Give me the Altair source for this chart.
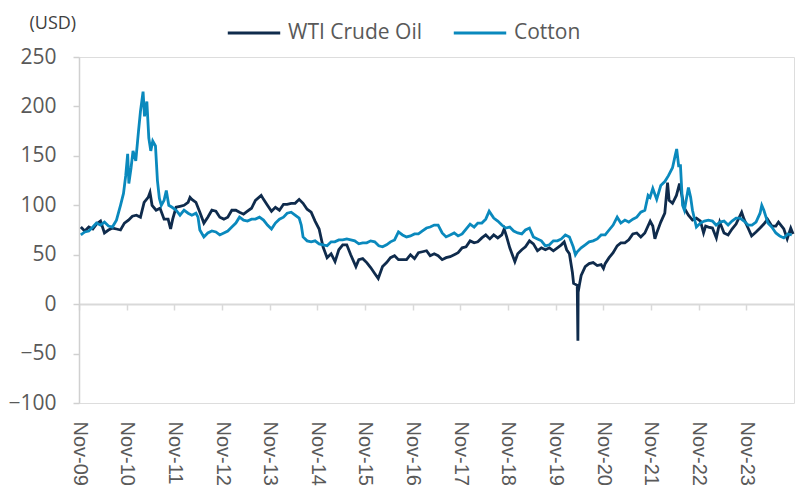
import altair as alt
import pandas as pd

# ---------------- data ----------------
wti_dates = [
    "2009-11-15","2009-12-15","2010-01-15","2010-02-15","2010-03-15","2010-04-15","2010-05-15","2010-06-15",
    "2010-07-15","2010-08-15","2010-09-15","2010-10-15","2010-11-15","2010-12-15","2011-01-15","2011-02-15",
    "2011-03-15","2011-04-15","2011-04-29","2011-05-15","2011-06-15","2011-07-15","2011-08-15","2011-09-15",
    "2011-10-04","2011-10-20","2011-11-15","2011-12-15","2012-01-15","2012-02-15","2012-03-01","2012-03-15",
    "2012-04-15","2012-05-15","2012-06-15","2012-07-15","2012-08-15","2012-09-15","2012-10-15","2012-11-15",
    "2012-12-15","2013-01-15","2013-02-15","2013-03-15","2013-04-15","2013-05-15","2013-06-15","2013-07-15",
    "2013-08-28","2013-09-15","2013-10-15","2013-11-15","2013-12-15","2014-01-15","2014-02-15","2014-03-15",
    "2014-04-15","2014-05-15","2014-06-15","2014-07-15","2014-08-15","2014-09-15","2014-10-15","2014-11-15",
    "2014-12-15","2015-01-15","2015-02-15","2015-03-17","2015-04-15","2015-05-15","2015-06-15","2015-07-15",
    "2015-08-24","2015-09-15","2015-10-15","2015-11-15","2015-12-15","2016-01-15","2016-02-11","2016-03-15",
    "2016-04-15","2016-05-15","2016-06-15","2016-07-15","2016-08-15","2016-09-15","2016-10-15","2016-11-15",
    "2016-12-15","2017-01-15","2017-02-15","2017-03-15","2017-04-15","2017-05-15","2017-06-15","2017-07-15",
    "2017-08-15","2017-09-15","2017-10-15","2017-11-15","2017-12-15","2018-01-15","2018-02-15","2018-03-15",
    "2018-04-15","2018-05-15","2018-06-15","2018-07-15","2018-08-15","2018-09-15","2018-10-03","2018-10-20",
    "2018-11-15","2018-12-24","2019-01-15","2019-02-15","2019-03-15","2019-04-15","2019-05-15","2019-06-15",
    "2019-07-15","2019-08-15","2019-09-15","2019-10-15","2019-11-15","2019-12-15","2020-01-06","2020-01-25",
    "2020-02-15","2020-03-09","2020-03-18","2020-04-01","2020-04-15","2020-04-20","2020-04-22","2020-05-01",
    "2020-05-15","2020-06-15","2020-07-15","2020-08-15","2020-09-15","2020-10-15","2020-11-02","2020-11-15",
    "2020-12-15","2021-01-15","2021-02-15","2021-03-15","2021-04-15","2021-05-15","2021-06-15","2021-07-15",
    "2021-08-15","2021-09-15","2021-10-26","2021-11-15","2021-12-01","2021-12-15","2022-01-15","2022-02-15",
    "2022-03-08","2022-03-20","2022-04-15","2022-05-15","2022-06-08","2022-07-15","2022-08-15","2022-09-15",
    "2022-10-15","2022-11-15","2022-12-09","2022-12-25","2023-01-15","2023-02-15","2023-03-17","2023-04-12",
    "2023-05-15","2023-06-15","2023-07-15","2023-08-15","2023-09-27","2023-10-15","2023-11-15","2023-12-12",
    "2024-01-15","2024-02-15","2024-03-15","2024-04-12","2024-05-15","2024-06-15","2024-07-05","2024-08-15",
    "2024-09-10","2024-10-07","2024-10-25",
]
wti_values = [
    78, 74, 78, 76, 81, 84, 72, 75,
    77, 76, 75, 82, 85, 89, 90, 88,
    103, 108, 113, 100, 95, 97, 86, 86,
    76, 86, 98, 99, 100, 103, 108, 106,
    103, 93, 82, 88, 95, 94, 88, 86,
    88, 95, 95, 93, 91, 94, 97, 105,
    110, 106, 100, 94, 98, 95, 101, 101,
    102, 102, 106, 102, 96, 93, 84, 76,
    58, 47, 51, 43, 55, 60, 60, 50,
    38, 45, 46, 42, 37, 31, 26, 38,
    42, 47, 49, 45, 45, 45, 50, 46,
    52, 53, 54, 49, 51, 49, 45, 47,
    48, 50, 52, 57, 58, 64, 62, 63,
    67, 70, 66, 70, 67, 70, 76, 69,
    57, 43, 51, 55, 58, 64, 61, 54,
    57, 55, 57, 54, 57, 60, 63, 55,
    51, 32, 21, 20, 19, -37, 12, 19,
    29, 38, 41, 42, 39, 40, 36, 41,
    47, 52, 59, 62, 62, 65, 71, 72,
    68, 72, 84, 79, 66, 72, 83, 92,
    123, 105, 102, 110, 122, 97, 90, 85,
    87, 84, 72, 79, 78, 77, 67, 83,
    72, 70, 76, 81, 93, 86, 77, 69,
    73, 77, 81, 86, 79, 79, 83, 76,
    66, 77, 71,
]

cotton_dates = [
    "2009-11-15","2009-12-15","2010-01-15","2010-02-15","2010-03-15","2010-04-15","2010-05-15","2010-06-15",
    "2010-07-15","2010-08-15","2010-09-15","2010-10-08","2010-10-25","2010-11-09","2010-11-18","2010-12-05",
    "2010-12-20","2011-01-10","2011-01-31","2011-02-15","2011-03-07","2011-03-18","2011-04-05","2011-04-20",
    "2011-05-05","2011-05-20","2011-06-10","2011-06-25","2011-07-10","2011-07-25","2011-08-15","2011-09-01",
    "2011-09-20","2011-10-15","2011-11-15","2011-12-15","2012-01-15","2012-02-15","2012-03-15","2012-04-15",
    "2012-05-01","2012-05-15","2012-06-15","2012-07-15","2012-08-15","2012-09-15","2012-10-15","2012-11-15",
    "2012-12-15","2013-01-15","2013-02-15","2013-03-15","2013-04-15","2013-05-15","2013-06-15","2013-07-15",
    "2013-08-15","2013-09-15","2013-10-15","2013-11-15","2013-12-15","2014-01-15","2014-02-15","2014-03-15",
    "2014-04-15","2014-05-15","2014-06-15","2014-07-01","2014-07-15","2014-08-15","2014-09-15","2014-10-15",
    "2014-11-15","2014-12-15","2015-01-15","2015-02-15","2015-03-15","2015-04-15","2015-05-15","2015-06-15",
    "2015-07-15","2015-08-15","2015-09-15","2015-10-15","2015-11-15","2015-12-15","2016-01-15","2016-02-15",
    "2016-03-15","2016-04-15","2016-05-15","2016-06-15","2016-07-15","2016-08-15","2016-09-15","2016-10-15",
    "2016-11-15","2016-12-15","2017-01-15","2017-02-15","2017-03-15","2017-04-15","2017-05-15","2017-06-15",
    "2017-07-15","2017-08-15","2017-09-15","2017-10-15","2017-11-15","2017-12-15","2018-01-15","2018-02-15",
    "2018-03-15","2018-04-15","2018-05-15","2018-06-10","2018-07-15","2018-08-15","2018-09-15","2018-10-15",
    "2018-11-15","2018-12-15","2019-01-15","2019-02-15","2019-03-15","2019-04-15","2019-05-15","2019-06-15",
    "2019-07-15","2019-08-15","2019-09-15","2019-10-15","2019-11-15","2019-12-15","2020-01-15","2020-02-15",
    "2020-03-15","2020-04-01","2020-04-15","2020-05-15","2020-06-15","2020-07-15","2020-08-15","2020-09-15",
    "2020-10-15","2020-11-15","2020-12-15","2021-01-15","2021-02-15","2021-03-15","2021-04-15","2021-05-15",
    "2021-06-15","2021-07-15","2021-08-15","2021-09-15","2021-10-10","2021-10-25","2021-11-15","2021-12-15",
    "2022-01-15","2022-02-15","2022-03-15","2022-04-15","2022-05-05","2022-05-17","2022-06-01","2022-06-15",
    "2022-07-01","2022-07-15","2022-08-15","2022-09-01","2022-09-15","2022-10-15","2022-11-15","2022-12-15",
    "2023-01-15","2023-02-15","2023-03-15","2023-04-15","2023-05-15","2023-06-15","2023-07-15","2023-08-15",
    "2023-09-15","2023-10-15","2023-11-15","2023-12-15","2024-01-15","2024-02-15","2024-02-28","2024-03-15",
    "2024-04-15","2024-05-15","2024-06-15","2024-07-15","2024-08-15","2024-09-15","2024-10-15",
]
cotton_values = [
    70, 73, 74, 78, 82, 80, 83, 79,
    78, 85, 100, 112, 130, 152, 122, 138,
    155, 145, 175, 195, 215, 190, 205, 168,
    155, 165, 160, 125, 107, 100, 105, 115,
    100, 98, 95, 90, 95, 92, 90, 92,
    88, 75, 68, 72, 74, 73, 70, 72,
    74, 78, 82, 88, 85, 84, 86, 86,
    88, 85, 80, 76, 82, 86, 88, 92,
    93, 90, 87, 80, 68, 64, 63, 64,
    61, 60, 59, 63, 63, 65, 65, 66,
    65, 64, 61, 62, 62, 64, 63, 59,
    58, 60, 63, 65, 73, 70, 68, 69,
    71, 71, 74, 77, 78, 80, 80, 72,
    68, 70, 72, 69, 71, 76, 81, 78,
    82, 82, 86, 94, 87, 84, 80, 77,
    78, 74, 72, 71, 75, 77, 68, 66,
    64, 59, 60, 64, 64, 66, 70, 68,
    58, 50, 53, 57, 60, 63, 64, 66,
    70, 70, 75, 80, 88, 82, 85, 83,
    86, 88, 93, 95, 110, 108, 117, 106,
    120, 124, 130, 138, 150, 157, 140, 140,
    100, 95, 118, 108, 95, 78, 82, 84,
    85, 84, 80, 83, 84, 80, 84, 87,
    87, 84, 80, 80, 83, 92, 100, 95,
    82, 78, 72, 69, 67, 71, 70,
]

series_names = ["WTI Crude Oil", "Cotton"]
series_colors = ["#0f2b4c", "#0a89bd"]
y_ticks = [-100, -50, 0, 50, 100, 150, 200, 250]
x_tick_years = list(range(2009, 2024))

df = pd.concat([
    pd.DataFrame({"date": wti_dates, "value": wti_values, "series": series_names[0]}),
    pd.DataFrame({"date": cotton_dates, "value": cotton_values, "series": series_names[1]}),
], ignore_index=True)

tick_values = [alt.DateTime(year=y, month=11, date=1) for y in x_tick_years]
x_scale = alt.Scale(domain=[alt.DateTime(year=2009, month=11, date=1),
                            alt.DateTime(year=2024, month=11, date=1)])
y_scale = alt.Scale(domain=[-100, 250], nice=False)
color_scale = alt.Scale(domain=series_names, range=series_colors)

label_axis = alt.Axis(orient="bottom", values=tick_values, format="%b-%y", labelAngle=90,
                      labelAlign="left", labelBaseline="middle", labelFont="Liberation Sans",
                      labelFontSize=20, labelColor="#595959", labelPadding=18, domain=False,
                      ticks=False, tickSize=0, grid=False, title=None, labelOverlap=False)
zero_axis = alt.Axis(orient="bottom", values=tick_values, labels=False, domain=True,
                     domainColor="#d9d9d9", domainWidth=2, ticks=True, tickColor="#d9d9d9",
                     tickSize=6, tickWidth=1.5, grid=False, title=None, offset=-99)
y_axis = alt.Axis(values=y_ticks, grid=False, domain=True, domainColor="#d0d0d0", domainWidth=1.5,
                  ticks=True, tickColor="#d0d0d0", tickSize=6, tickWidth=1.5,
                  labelFont="Open Sans", labelFontSize=21, labelColor="#595959", labelPadding=17,
                  title="(USD)", titleAngle=0, titleX=-50, titleY=-34, titleAlign="left",
                  titleBaseline="middle", titleFont="Open Sans", titleFontSize=18,
                  titleFontWeight="normal", titleColor="#404040")

legend = alt.Legend(orient="none", legendX=147, legendY=-52, direction="horizontal", title=None,
                    symbolType="stroke", symbolSize=2750, symbolStrokeWidth=3,
                    labelFont="Open Sans", labelFontSize=21, labelColor="#595959",
                    labelOffset=6, columnPadding=25, padding=0)

wti = alt.Chart(df).transform_filter(alt.datum.series == series_names[0]).mark_line(strokeWidth=2.8).encode(
    x=alt.X("date:T", scale=x_scale, axis=label_axis),
    y=alt.Y("value:Q", scale=y_scale, axis=y_axis),
    color=alt.Color("series:N", scale=color_scale, legend=legend, sort=series_names),
)
cotton = alt.Chart(df).transform_filter(alt.datum.series == series_names[1]).mark_line(strokeWidth=2.8).encode(
    x=alt.X("date:T", scale=x_scale, axis=zero_axis),
    y=alt.Y("value:Q", scale=y_scale, axis=y_axis),
    color=alt.Color("series:N", scale=color_scale, legend=legend, sort=series_names),
)

chart = alt.layer(wti, cotton).resolve_axis(x="independent").properties(
    width=715, height=346,
    autosize=alt.AutoSizeParams(type="none"),
    padding={"left": 71, "top": 49, "right": 6, "bottom": 90},
).configure_view(stroke=None).configure(background="white")

chart.save("out.html", embed_options={"renderer": "svg", "actions": False})
